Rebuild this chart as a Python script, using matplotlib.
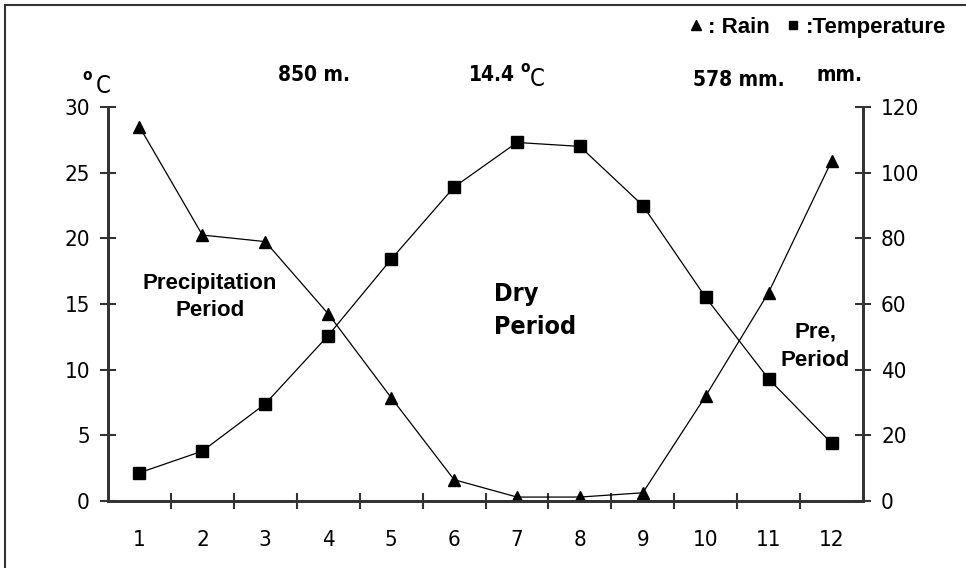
import matplotlib
matplotlib.use("Agg")
import matplotlib.pyplot as plt
from matplotlib.lines import Line2D

months = [1, 2, 3, 4, 5, 6, 7, 8, 9, 10, 11, 12]
temperature = [2.15, 3.8, 7.4, 12.6, 18.4, 23.9, 27.3, 27.0, 22.5, 15.5, 9.3, 4.4]  # oC
rain = [114, 81, 79, 57, 31.5, 6.5, 1.2, 1.2, 2.5, 32, 63.5, 103.5]  # mm
temp_ticks = [0, 5, 10, 15, 20, 25, 30]
rain_ticks = [0, 20, 40, 60, 80, 100, 120]

plt.rcParams["font.family"] = ["DejaVu Sans"]
plt.rcParams["font.stretch"] = "condensed"

fig = plt.figure(figsize=(9.66, 5.68), dpi=100)
ax = fig.add_axes([108 / 966, 1 - 501 / 568, 755 / 966, 394 / 568])
ax2 = ax.twinx()

ax.plot(months, temperature, color="black", lw=0.9, marker="s", ms=8, mfc="black", mec="black")
ax2.plot(months, rain, color="black", lw=0.9, marker="^", ms=9, mfc="black", mec="black")

ax.set_xlim(0.5, 12.5)
ax.set_ylim(0, 30)
ax2.set_ylim(0, 120)
ax.set_yticks(temp_ticks)
ax2.set_yticks(rain_ticks)

# category axis: ticks between months, labels in the middle
ax.set_xticks([m + 0.5 for m in months[:-1]])
ax.set_xticklabels([])
ax.set_xticks(months, minor=True)
ax.set_xticklabels([str(m) for m in months], minor=True, fontsize=16)
ax.tick_params(axis="x", which="minor", length=0, pad=21)
ax.tick_params(axis="x", which="major", direction="inout", length=12, width=1.5, color="#333333")
ax.tick_params(axis="y", direction="inout", length=12, width=1.5, color="#333333", labelsize=16, pad=7)
ax2.tick_params(axis="y", direction="inout", length=12, width=1.5, color="#333333", labelsize=16, pad=7)
for lab in ax.get_xticklabels(minor=True) + ax.get_yticklabels() + ax2.get_yticklabels():
    lab.set_fontstretch("condensed")

for a in (ax, ax2):
    a.spines["top"].set_visible(False)
    for s in ("left", "right", "bottom"):
        a.spines[s].set_linewidth(2)
        a.spines[s].set_color("#333333")

cond = dict(fontstretch="condensed", va="center", color="black")
bold = dict(fontweight="bold", fontsize=15, **cond)
fig.text(278 / 966, 1 - 75 / 568, "850 m.", **bold)
fig.text(469 / 966, 1 - 75 / 568, "14.4", **bold)
fig.text(520 / 966, 1 - 68 / 568, "o", fontsize=11, fontweight="bold", **cond)
fig.text(530 / 966, 1 - 79 / 568, "C", fontsize=17, **cond)
fig.text(693 / 966, 1 - 80 / 568, "578 mm.", **bold)
fig.text(816 / 966, 1 - 75 / 568, "mm.", **bold)
fig.text(82 / 966, 1 - 75 / 568, "o", fontsize=11, fontweight="bold", **cond)
fig.text(96 / 966, 1 - 86 / 568, "C", fontsize=17, **cond)

arial = ["Liberation Sans", "DejaVu Sans"]
ax.text(2.12, 15.55, "Precipitation\nPeriod", family=arial, fontweight="bold", fontsize=16,
        ha="center", va="center", linespacing=1.4)
ax.text(6.64, 14.5, "Dry\nPeriod", fontweight="bold", fontsize=18, fontstretch="condensed",
        ha="left", va="center", linespacing=1.45)
ax.text(11.74, 11.8, "Pre,\nPeriod", family=arial, fontweight="bold", fontsize=16,
        ha="center", va="center", linespacing=1.5)

# legend drawn as marker + text at the top right
handles = [Line2D([], [], ls="none", marker="^", ms=7, color="black"),
           Line2D([], [], ls="none", marker="s", ms=6, color="black")]
fig.legend(handles, [": Rain", ":Temperature"], loc="upper right", bbox_to_anchor=(1.0, 1.005),
           ncol=2, frameon=False, handlelength=0.5, handletextpad=0.3, columnspacing=0.8,
           prop={"family": arial, "weight": "bold", "size": 16})

# frame lines at the left and top of the picture
fig.add_artist(Line2D([4.5 / 966, 4.5 / 966], [0, 1 - 5 / 568], transform=fig.transFigure, color="#333333", lw=1.5))
fig.add_artist(Line2D([4.5 / 966, 1], [1 - 5 / 568, 1 - 5 / 568], transform=fig.transFigure, color="#333333", lw=1.5))

fig.savefig("out.png", dpi=100)
